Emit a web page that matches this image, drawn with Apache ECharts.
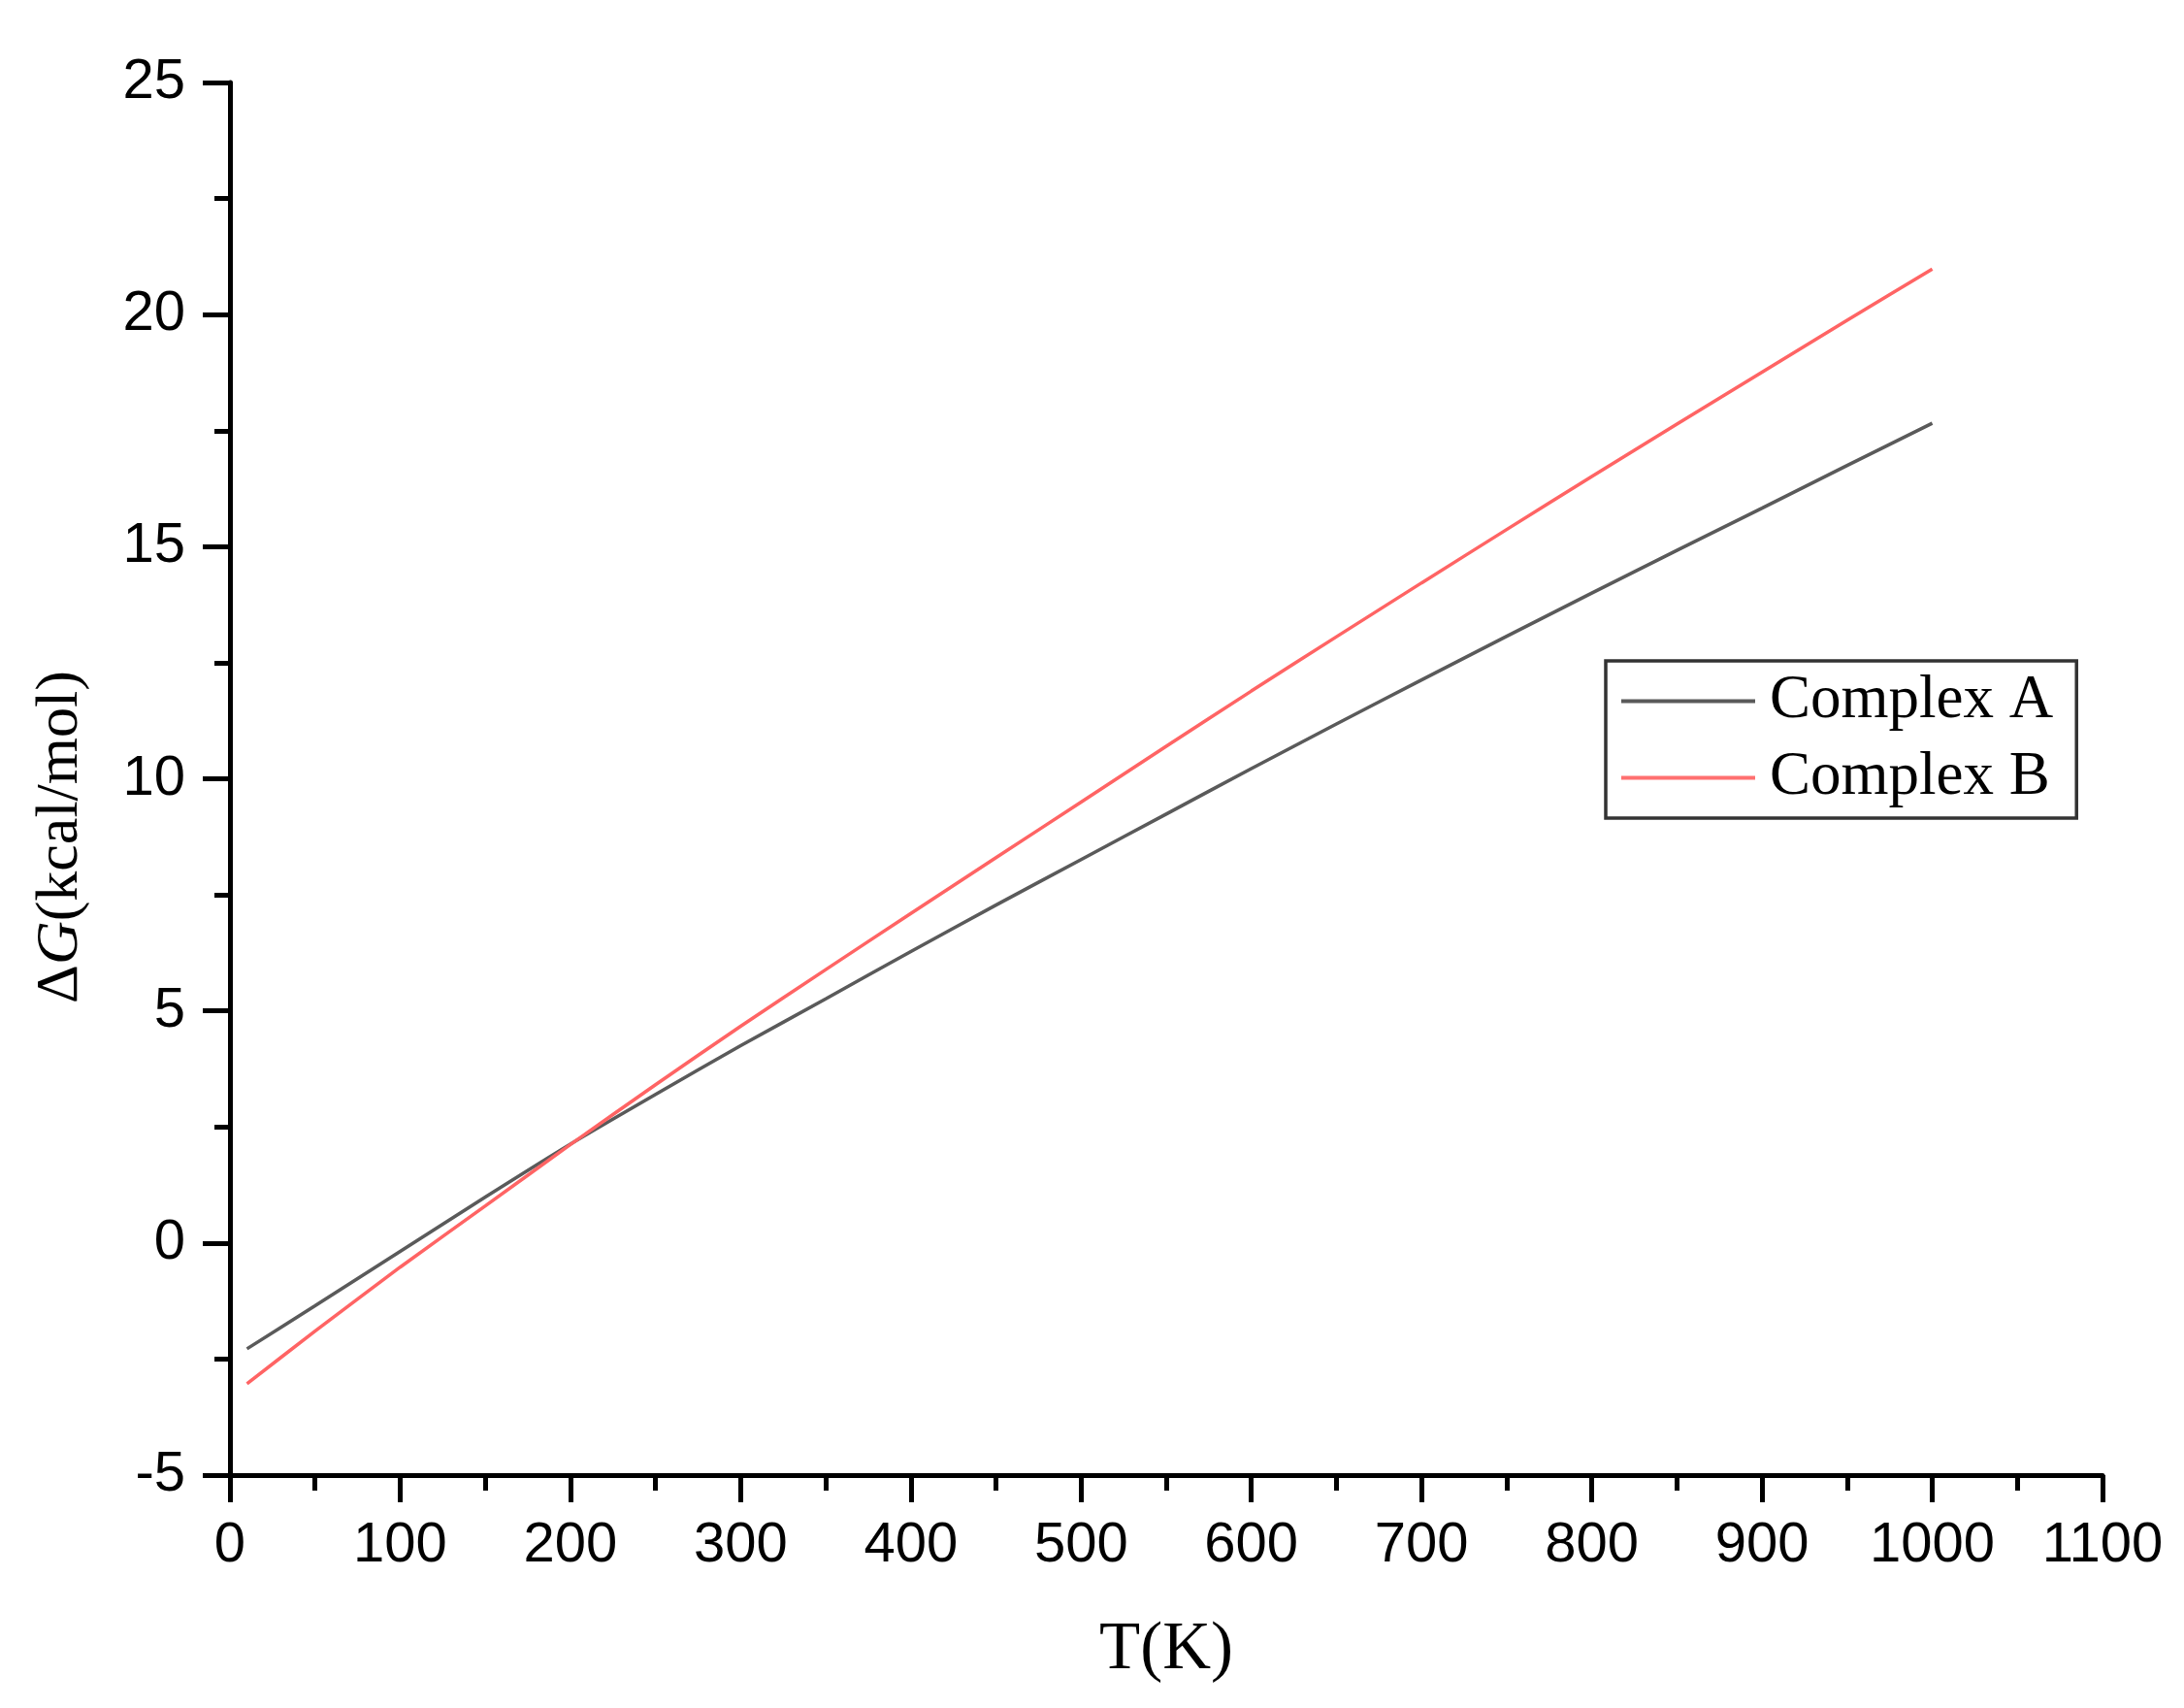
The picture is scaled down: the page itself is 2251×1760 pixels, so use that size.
<!DOCTYPE html>
<html>
<head>
<meta charset="utf-8">
<script src="https://cdn.jsdelivr.net/npm/echarts@6/dist/echarts.min.js"></script>
<style>
  html, body { margin: 0; padding: 0; background: #ffffff; }
  #chart { width: 2251px; height: 1760px; }
</style>
</head>
<body>
<div id="chart"></div>
<script>
// Temperature (K)
const temperatures = [10, 50, 100, 150, 200, 250, 300, 350, 400, 450, 500, 550, 600, 650, 700, 750, 800, 850, 900, 950, 1000];
// ΔG (kcal/mol)
const complexA = [-2.28, -1.35, -0.18, 0.99, 2.13, 3.20, 4.25, 5.26, 6.28, 7.28, 8.26, 9.24, 10.22, 11.18, 12.13, 13.07, 14.00, 14.92, 15.83, 16.75, 17.66];
const complexB = [-3.03, -1.90, -0.52, 0.80, 2.12, 3.41, 4.67, 5.89, 7.10, 8.30, 9.50, 10.70, 11.89, 13.06, 14.22, 15.37, 16.51, 17.64, 18.76, 19.88, 20.98];
const seriesNames = ['Complex A', 'Complex B'];
const xTitle = 'T(K)';

const chart = echarts.init(document.getElementById('chart'), null, { renderer: 'canvas' });

const axisCommon = {
  axisLine: { show: true, onZero: false, lineStyle: { color: '#000', width: 5 } },
  axisTick: { show: true, inside: false, length: 28, lineStyle: { color: '#000', width: 5 } },
  minorTick: { show: true, splitNumber: 2, length: 16, lineStyle: { color: '#000', width: 5 } },
  splitLine: { show: false },
  minorSplitLine: { show: false }
};
const plainNumber = v => String(v);

chart.setOption({
  backgroundColor: '#ffffff',
  animation: false,
  grid: { left: 237, right: 84, top: 85, bottom: 240, containLabel: false },
  legend: {
    show: true,
    left: 1655,
    top: 681,
    orient: 'vertical',
    data: seriesNames,
    icon: 'rect',
    borderColor: '#333',
    borderWidth: 3.5,
    borderRadius: 0,
    padding: [10, 24, 10, 16],
    itemWidth: 138,
    itemHeight: 4,
    itemGap: 16,
    textStyle: { fontFamily: 'Liberation Serif, Times New Roman, serif', fontSize: 63, color: '#000', padding: [0, 0, 0, 10] }
  },
  xAxis: Object.assign({
    type: 'value',
    min: 0,
    max: 1100,
    interval: 100,
    name: xTitle,
    nameLocation: 'middle',
    nameGap: 146,
    nameTextStyle: { fontFamily: 'Liberation Serif, Times New Roman, serif', fontSize: 69, color: '#000' },
    axisLabel: { fontFamily: 'Liberation Sans, Arial, sans-serif', fontSize: 58, color: '#000', margin: 44, formatter: plainNumber }
  }, axisCommon),
  yAxis: Object.assign({
    type: 'value',
    min: -5,
    max: 25,
    interval: 5,
    name: '{d|Δ}{g|G}{d|(kcal/mol)}',
    nameLocation: 'middle',
    nameGap: 143,
    nameRotate: 90,
    nameTextStyle: {
      fontFamily: 'Liberation Serif, Times New Roman, serif', fontSize: 62, color: '#000',
      padding: [0, 120, 0, 0],
      rich: {
        d: { fontFamily: 'Liberation Serif, Times New Roman, serif', fontSize: 62, color: '#000' },
        g: { fontFamily: 'Liberation Serif, Times New Roman, serif', fontSize: 62, color: '#000', fontStyle: 'italic' }
      }
    },
    axisLabel: { fontFamily: 'Liberation Sans, Arial, sans-serif', fontSize: 58, color: '#000', margin: 46, formatter: plainNumber }
  }, axisCommon),
  series: [
    {
      name: seriesNames[0],
      type: 'line',
      data: temperatures.map((t, i) => [t, complexA[i]]),
      symbol: 'none',
      smooth: 0.2,
      lineStyle: { color: '#5a5a5a', width: 3.5 },
      itemStyle: { color: '#5a5a5a' }
    },
    {
      name: seriesNames[1],
      type: 'line',
      data: temperatures.map((t, i) => [t, complexB[i]]),
      symbol: 'none',
      smooth: 0.2,
      lineStyle: { color: '#ff6464', width: 3.5 },
      itemStyle: { color: '#ff7070' }
    }
  ]
});
</script>
</body>
</html>
